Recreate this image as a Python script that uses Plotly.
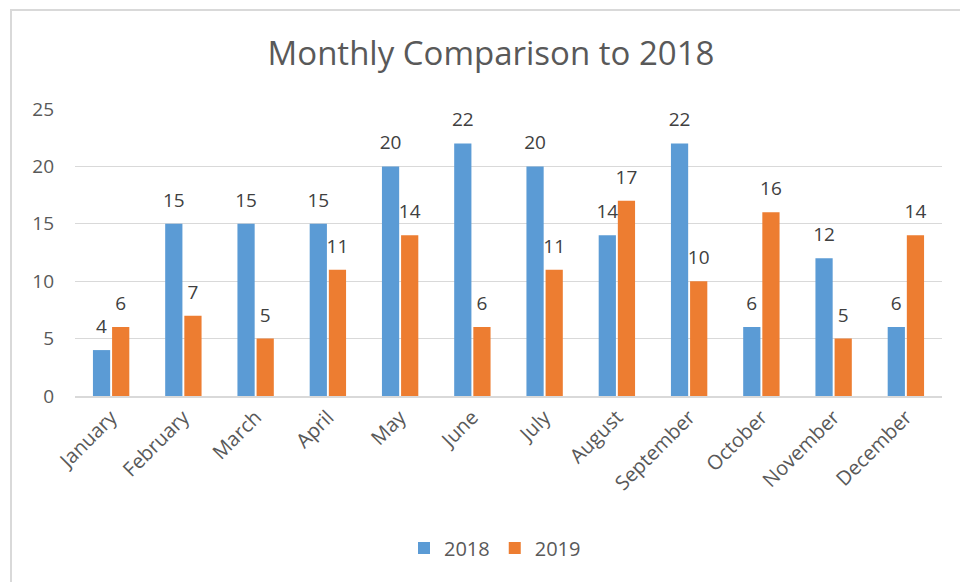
import plotly.graph_objects as go

months = ["January", "February", "March", "April", "May", "June", "July",
          "August", "September", "October", "November", "December"]
values_2018 = [4, 15, 15, 15, 20, 22, 20, 14, 22, 6, 12, 6]
values_2019 = [6, 7, 5, 11, 14, 6, 11, 17, 10, 16, 5, 14]
y_ticks = [0, 5, 10, 15, 20, 25]

FONT = "Open Sans"
TXT = "#595959"
LBL = "#404040"
COLORS = {"2018": "#5B9BD5", "2019": "#ED7D31"}

fig = go.Figure()
for name, vals in (("2018", values_2018), ("2019", values_2019)):
    fig.add_trace(go.Bar(name=name, x=months, y=vals, marker_color=COLORS[name],
                         marker_line_width=0, offsetgroup=name, alignmentgroup="a",
                         hoverinfo="skip"))
for name, vals in (("2018", values_2018), ("2019", values_2019)):
    fig.add_trace(go.Scatter(x=months, y=vals, mode="markers+text", text=vals,
                             textposition="top center", offsetgroup=name,
                             alignmentgroup="a", showlegend=False, cliponaxis=False,
                             marker=dict(size=18, opacity=0, color=COLORS[name]),
                             textfont=dict(size=19, color=LBL, family=FONT),
                             hoverinfo="skip"))

L, R, T, B = 75, 18, 109, 186
W, H = 960, 582
pw, ph = W - L - R, H - T - B

def px(x):
    return (x - L) / pw

def py(y):
    return (H - B - y) / ph

fig.update_layout(
    width=W, height=H,
    margin=dict(l=L, r=R, t=T, b=B, autoexpand=False),
    paper_bgcolor="white", plot_bgcolor="white",
    barmode="group", bargap=0.47, bargroupgap=0.1,
    scattermode="group", scattergap=0.47,
    title=dict(text="Monthly Comparison to 2018", x=px(491), xanchor="center",
               xref="paper", y=1 - 53 / H, yanchor="middle",
               font=dict(size=33, color=TXT, family=FONT)),
    xaxis=dict(tickangle=-45, tickfont=dict(size=20, color=TXT, family=FONT),
               showline=True, linecolor="#D9D9D9", linewidth=1.5, ticks=""),
    yaxis=dict(range=[0, 25], tickvals=y_ticks, showgrid=True, gridcolor="#D9D9D9",
               gridwidth=1.2, zeroline=False,
               tickfont=dict(size=19, color=TXT, family=FONT),
               ticklabelstandoff=20),
    legend=dict(orientation="h", x=px(495), xanchor="center", y=py(548), yanchor="middle",
                font=dict(size=20, color=TXT, family=FONT), traceorder="normal",
                itemwidth=30),
    showlegend=True,
)
fig.add_shape(type="rect", xref="paper", yref="paper",
              x0=px(11), x1=px(1000), y0=py(10), y1=py(640),
              line=dict(color="#D9D9D9", width=2), layer="below")

fig.write_html("out.html", config={"displayModeBar": False},
               post_script="document.body.style.margin='0';")
